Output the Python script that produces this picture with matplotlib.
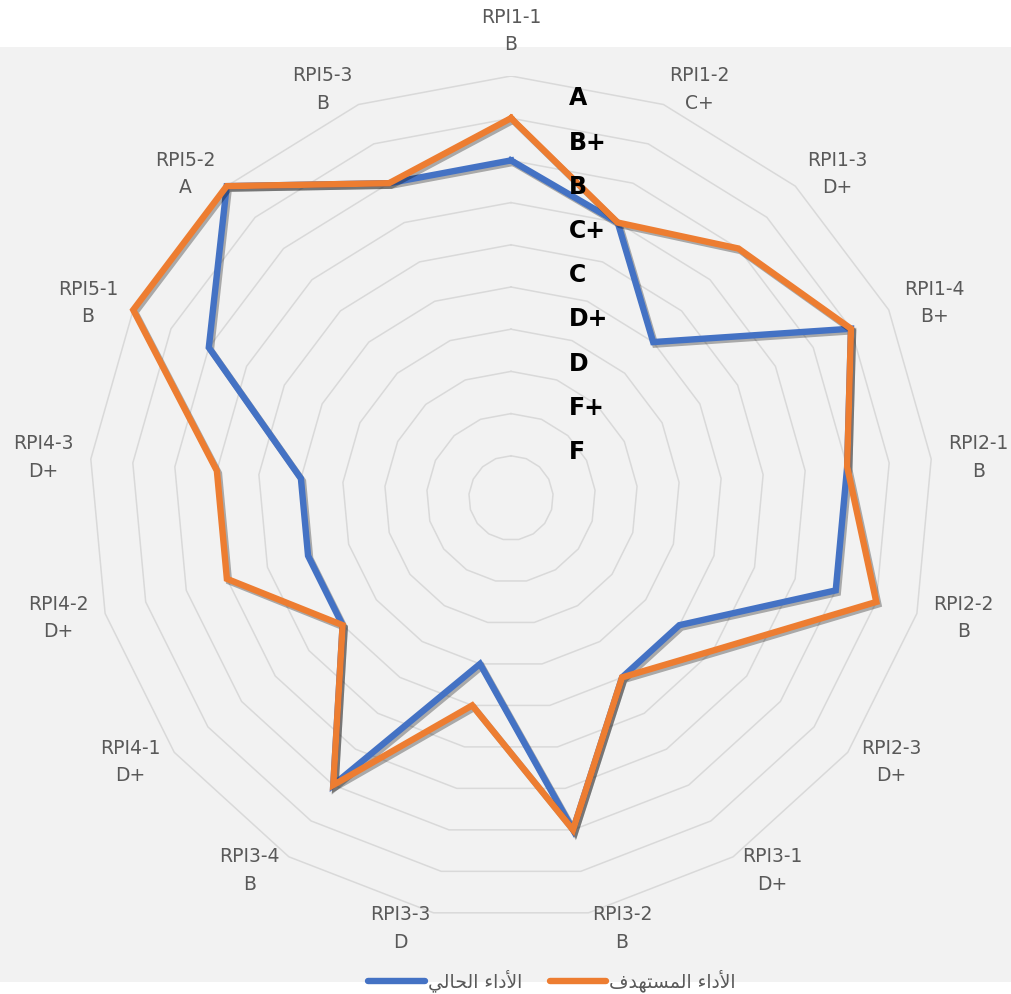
import numpy as np
import matplotlib.pyplot as plt
import matplotlib.patheffects as pe
from matplotlib.patches import Rectangle

categories = ['RPI1-1', 'RPI1-2', 'RPI1-3', 'RPI1-4', 'RPI2-1', 'RPI2-2', 'RPI2-3',
              'RPI3-1', 'RPI3-2', 'RPI3-3', 'RPI3-4', 'RPI4-1', 'RPI4-2', 'RPI4-3',
              'RPI5-1', 'RPI5-2', 'RPI5-3']
cat_grades = ['B', 'C+', 'D+', 'B+', 'B', 'B', 'D+', 'D+', 'B', 'D', 'B',
              'D+', 'D+', 'D+', 'B', 'A', 'B']
current = [8, 7, 5, 9, 8, 8, 5, 5, 8, 4, 8, 5, 5, 5, 8, 10, 8]
target = [9, 7, 8, 9, 8, 9, 6, 5, 8, 5, 8, 5, 7, 7, 10, 10, 8]
grade_scale = ['F', 'F+', 'D', 'D+', 'C', 'C+', 'B', 'B+', 'A']
series_names = ['الأداء الحالي', 'الأداء المستهدف']

# matplotlib has no arabic shaping, so map letters to presentation forms by hand
FORMS = {  # isolated, final, initial, medial
    '\u0621': ('\uFE80',),
    '\u0623': ('\uFE83', '\uFE84'),
    '\u0627': ('\uFE8D', '\uFE8E'),
    '\u062A': ('\uFE95', '\uFE96', '\uFE97', '\uFE98'),
    '\u062D': ('\uFEA1', '\uFEA2', '\uFEA3', '\uFEA4'),
    '\u062F': ('\uFEA9', '\uFEAA'),
    '\u0633': ('\uFEB1', '\uFEB2', '\uFEB3', '\uFEB4'),
    '\u0641': ('\uFED1', '\uFED2', '\uFED3', '\uFED4'),
    '\u0644': ('\uFEDD', '\uFEDE', '\uFEDF', '\uFEE0'),
    '\u0645': ('\uFEE1', '\uFEE2', '\uFEE3', '\uFEE4'),
    '\u0647': ('\uFEE9', '\uFEEA', '\uFEEB', '\uFEEC'),
    '\u064A': ('\uFEF1', '\uFEF2', '\uFEF3', '\uFEF4'),
}
LAM_ALEF = {'\u0623': ('\uFEF7', '\uFEF8'), '\u0627': ('\uFEFB', '\uFEFC')}


def shape_ar(text):
    out = []
    i = 0
    while i < len(text):
        c = text[i]
        if c not in FORMS:
            out.append(c)
            i += 1
            continue
        prev = text[i - 1] if i > 0 else ' '
        nxt = text[i + 1] if i + 1 < len(text) else ' '
        f = FORMS[c]
        joins_prev = len(FORMS.get(prev, ())) == 4 and len(f) >= 2
        if c == '\u0644' and nxt in LAM_ALEF:
            out.append(LAM_ALEF[nxt][1 if joins_prev else 0])
            i += 2
            continue
        joins_next = len(f) == 4 and len(FORMS.get(nxt, ())) >= 2
        if joins_prev and joins_next:
            out.append(f[3])
        elif joins_prev:
            out.append(f[1])
        elif joins_next:
            out.append(f[2])
        else:
            out.append(f[0])
        i += 1
    return ''.join(reversed(out))


W, H = 1012, 994
cx, cy, R = 511, 498, 422
fig = plt.figure(figsize=(W / 100, H / 100), dpi=100)
fig.patch.set_facecolor('white')
fig.patches.append(Rectangle((0, 1 - 982 / H), 1, (982 - 47) / H, transform=fig.transFigure,
                             facecolor='#F2F2F2', edgecolor='none', zorder=-5))

# radar drawn on a plain axes: x = r*sin(theta), y = r*cos(theta), theta clockwise from top
ax = fig.add_axes([(cx - R) / W, (H - cy - R) / H, 2 * R / W, 2 * R / H])
ax.set_xlim(-10, 10)
ax.set_ylim(-10, 10)
ax.set_axis_off()

n = len(categories)
theta = np.arange(n + 1) * 2 * np.pi / n
sx, sy = np.sin(theta), np.cos(theta)

for level in range(1, 11):
    ax.plot(level * sx, level * sy, color='#D9D9D9', lw=1.1, zorder=1)

shadow = [pe.SimpleLineShadow(offset=(1.5, -1.8), alpha=0.3, shadow_color='black'), pe.Normal()]
colors = ['#4472C4', '#ED7D31']
for vals, col, name in zip([current, target], colors, series_names):
    r = np.array(vals + vals[:1], dtype=float)
    ax.plot(r * sx, r * sy, color=col, lw=4.6, solid_joinstyle='miter',
            path_effects=shadow, label=shape_ar(name), zorder=3)

for i, (cat, g) in enumerate(zip(categories, cat_grades)):
    s, c = sx[i], sy[i]
    if abs(s) < 0.05:
        ha, va, off = 'center', 'bottom', (0, 22)
    else:
        ha = 'left' if s > 0 else 'right'
        va, off = 'center', (17 * s, 16 * c)
    ax.annotate(f'{cat}\n{g}', xy=(10 * s, 10 * c), xytext=off, textcoords='offset pixels',
                ha=ha, va=va, multialignment='center', linespacing=1.55,
                fontsize=13.5, color='#595959', annotation_clip=False)

for i, g in enumerate(grade_scale):
    ax.text(0.5 + 58 / (2 * R), 0.5 + (46 + 44.2 * i) / (2 * R), g, transform=ax.transAxes,
            ha='left', va='center', fontsize=17, fontweight='bold', color='black', zorder=4)

handles, labels = ax.get_legend_handles_labels()
leg = fig.legend(handles, labels, loc='center', bbox_to_anchor=(552 / W, 1 - 981 / H), ncol=2,
                 frameon=False, handlelength=3.0, handletextpad=0.15, columnspacing=1.5,
                 prop={'family': 'DejaVu Sans', 'size': 13.5}, labelcolor='#595959')
for h in leg.legend_handles:
    h.set_path_effects([])
    h.set_solid_capstyle('round')

fig.savefig('out.png', dpi=100)
